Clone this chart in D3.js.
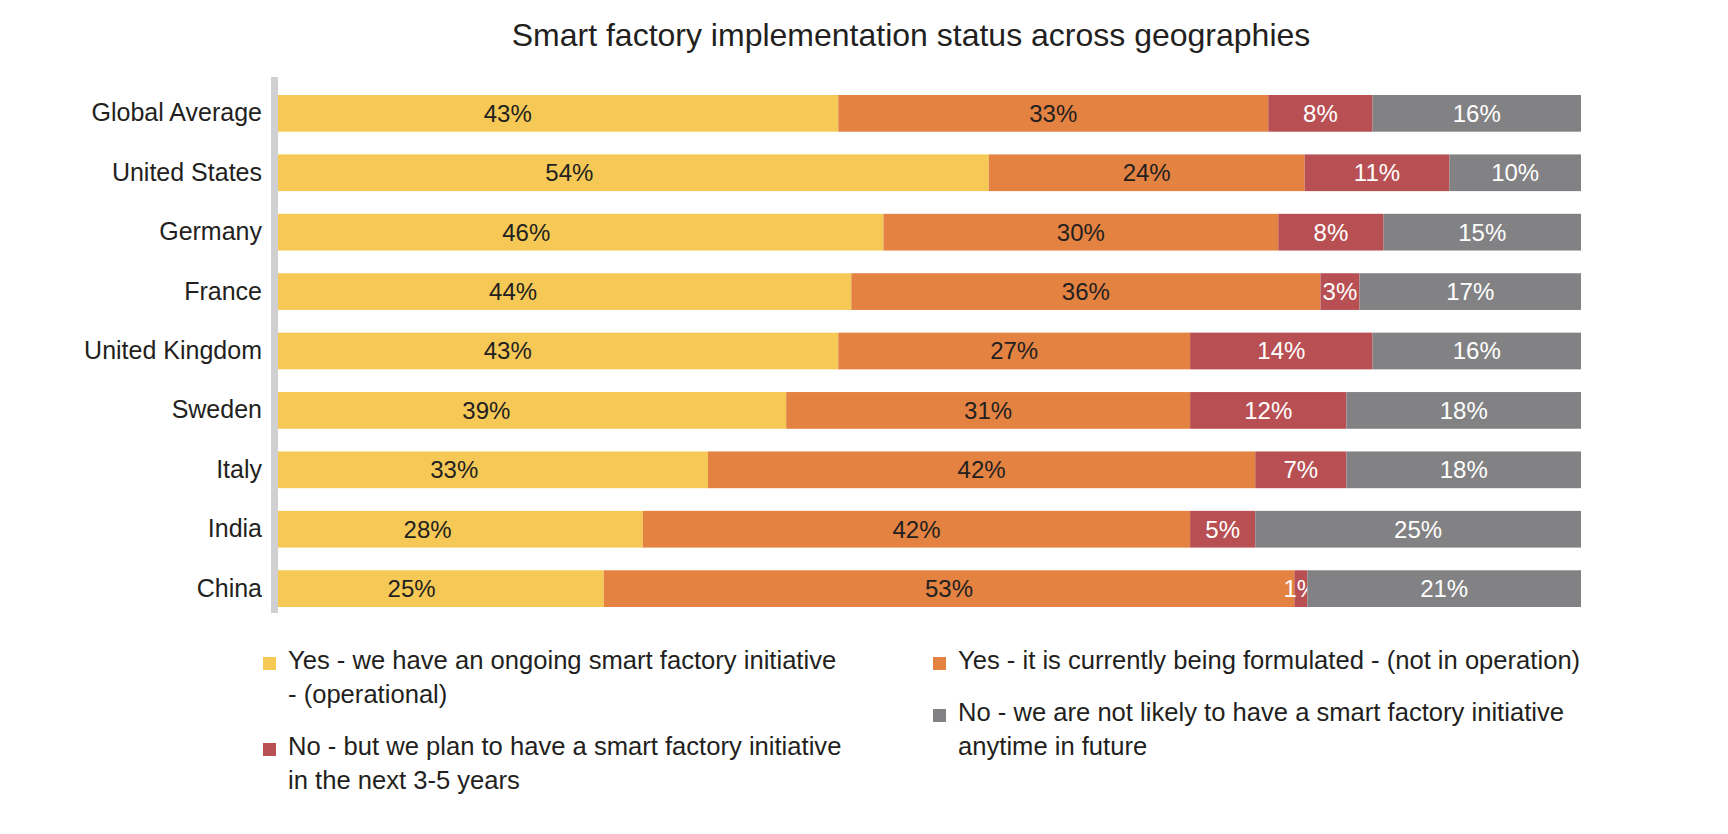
<!DOCTYPE html>
<html>
<head>
<meta charset="utf-8">
<script src="https://cdn.jsdelivr.net/npm/d3@7"></script>
<style>
  body { margin: 0; background: #fff; }
  svg text { font-family: "Liberation Sans", Arial, Helvetica, sans-serif; }
</style>
</head>
<body>
<svg id="chart"></svg>
<script>
// data
const countries = ['Global Average', 'United States', 'Germany', 'France', 'United Kingdom', 'Sweden', 'Italy', 'India', 'China']
const yesOngoing = [43, 54, 46, 44, 43, 39, 33, 28, 25]
const yesFormulated = [33, 24, 30, 36, 27, 31, 42, 42, 53]
const noPlanned = [8, 11, 8, 3, 14, 12, 7, 5, 1]
const noNever = [16, 10, 15, 17, 16, 18, 18, 25, 21]
const seriesKeys = ['yesOngoing', 'yesFormulated', 'noPlanned', 'noNever']
const legendLabels = [
  'Yes - we have an ongoing smart factory initiative\n- (operational)',
  'Yes - it is currently being formulated - (not in operation)',
  'No - but we plan to have a smart factory initiative\nin the next 3-5 years',
  'No - we are not likely to have a smart factory initiative\nanytime in future'
]
const title = 'Smart factory implementation status across geographies'

const colors = ['#f6c957', '#e48242', '#b85053', '#828284']
const labelColors = ['#231f20', '#231f20', '#ffffff', '#ffffff']
const dark = '#231f20'

let width = 1728, height = 834

let rows = countries.map((c, i) => ({
  country: c,
  yesOngoing: yesOngoing[i],
  yesFormulated: yesFormulated[i],
  noPlanned: noPlanned[i],
  noNever: noNever[i]
}))

// 100% stacked: each row fills the full width
let stacked = d3.stack()
  .keys(seriesKeys)
  .offset(d3.stackOffsetExpand)(rows)

let svg = d3.select('#chart')
  .attr('width', width)
  .attr('height', height)

let x = d3.scaleLinear().domain([0, 1]).range([278, 1581])
let y = d3.scaleBand().domain(countries).range([95, 607]).paddingInner(0.382)
let color = d3.scaleOrdinal().domain(seriesKeys).range(colors)

// title
svg.append('text')
  .attr('x', 911)
  .attr('y', 46)
  .attr('text-anchor', 'middle')
  .attr('font-size', 32)
  .attr('fill', dark)
  .text(title)

// bars
let layers = svg.selectAll('g.layer')
  .data(stacked)
  .join('g')
  .attr('class', 'layer')
  .attr('fill', d => color(d.key))

layers.selectAll('rect')
  .data(d => d)
  .join('rect')
  .attr('x', d => x(d[0]))
  .attr('y', d => y(d.data.country))
  .attr('width', d => x(d[1]) - x(d[0]))
  .attr('height', y.bandwidth())

// value labels (first series sits a bit left of centre like the original)
layers.each(function(layer, li) {
  d3.select(this).selectAll('text')
    .data(layer)
    .join('text')
    .attr('x', d => x(d[0]) + (li === 0 ? 0.41 : 0.5) * (x(d[1]) - x(d[0])))
    .attr('y', d => y(d.data.country) + y.bandwidth() / 2)
    .attr('dy', '0.35em')
    .attr('text-anchor', 'middle')
    .attr('font-size', 24)
    .attr('fill', labelColors[li])
    .text(d => d.data[layer.key] + '%')
})

// category axis
let yAxis = svg.append('g')
  .attr('transform', 'translate(271,0)')
  .style('color', dark)
  .call(d3.axisLeft(y).tickSize(0).tickPadding(9))

yAxis.select('.domain').remove()
yAxis.selectAll('text')
  .attr('font-size', 25)
  .style('font-family', '"Liberation Sans", Arial, Helvetica, sans-serif')

svg.append('rect')
  .attr('x', 271)
  .attr('y', 77)
  .attr('width', 7)
  .attr('height', 536)
  .attr('fill', '#d0d0d2')

// legend: two columns, items flow down each column
let colX = [263, 933]
let colY = [669, 669]
let lineH = 34

legendLabels.forEach((lbl, i) => {
  let col = i % 2
  let lines = lbl.split('\n')
  let by = colY[col]
  let g = svg.append('g')

  g.append('rect')
    .attr('x', colX[col])
    .attr('y', by - 12)
    .attr('width', 13)
    .attr('height', 13)
    .attr('fill', colors[i])

  let t = g.append('text')
    .attr('font-size', 25.6)
    .attr('fill', dark)

  lines.forEach((ln, j) => {
    t.append('tspan')
      .attr('x', colX[col] + 25)
      .attr('y', by + j * lineH)
      .text(ln)
  })

  colY[col] = by + (lines.length - 1) * lineH + 52
})
</script>
</body>
</html>
